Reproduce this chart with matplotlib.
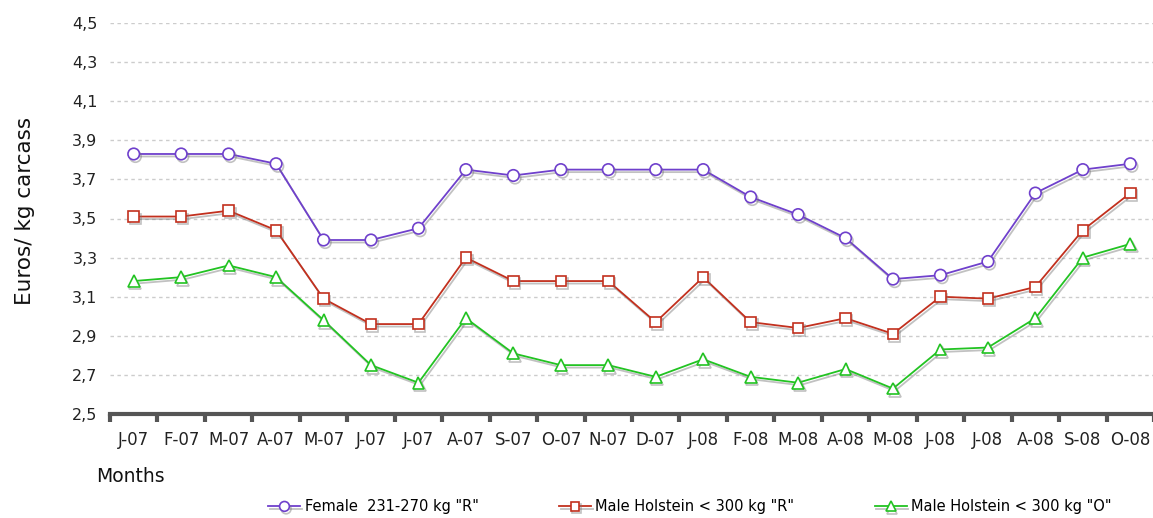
import matplotlib
matplotlib.use("Agg")
import matplotlib.pyplot as plt
import matplotlib.patheffects as pe
from matplotlib.ticker import FixedLocator, NullFormatter

months = ["J-07", "F-07", "M-07", "A-07", "M-07", "J-07", "J-07", "A-07", "S-07", "O-07", "N-07",
          "D-07", "J-08", "F-08", "M-08", "A-08", "M-08", "J-08", "J-08", "A-08", "S-08", "O-08"]
female_r = [3.83, 3.83, 3.83, 3.78, 3.39, 3.39, 3.45, 3.75, 3.72, 3.75, 3.75,
            3.75, 3.75, 3.61, 3.52, 3.40, 3.19, 3.21, 3.28, 3.63, 3.75, 3.78]
holstein_r = [3.51, 3.51, 3.54, 3.44, 3.09, 2.96, 2.96, 3.30, 3.18, 3.18, 3.18,
              2.97, 3.20, 2.97, 2.94, 2.99, 2.91, 3.10, 3.09, 3.15, 3.44, 3.63]
holstein_o = [3.18, 3.20, 3.26, 3.20, 2.98, 2.75, 2.66, 2.99, 2.81, 2.75, 2.75,
              2.69, 2.78, 2.69, 2.66, 2.73, 2.63, 2.83, 2.84, 2.99, 3.30, 3.37]
series_labels = ['Female  231-270 kg "R"', 'Male Holstein < 300 kg "R"', 'Male Holstein < 300 kg "O"']
yticks = [2.5, 2.7, 2.9, 3.1, 3.3, 3.5, 3.7, 3.9, 4.1, 4.3, 4.5]

plt.rcParams['font.family'] = ['DejaVu Sans']

fig = plt.figure(figsize=(11.53, 5.18), dpi=100)
ax = fig.add_axes([110 / 1153, 1 - 414 / 518, (1154 - 110) / 1153, (414 - 23) / 518])

x = list(range(len(months)))
specs = [(female_r, '#6f40cc', 'o', 8.3), (holstein_r, '#c2301e', 's', 7.6), (holstein_o, '#22c322', '^', 8.5)]
handles = []
for (vals, col, mk, ms), lab in zip(specs, series_labels):
    ln, = ax.plot(x, vals, color=col, lw=1.3, marker=mk, ms=ms, mfc='white', mec=col, mew=1.2,
                  label=lab, zorder=3,
                  path_effects=[pe.SimpleLineShadow(offset=(1.2, -1.8), shadow_color='#777777', alpha=0.45),
                                pe.Normal()])
    handles.append(ln)

ax.set_xlim(-0.5, len(months) - 0.5)
ax.set_ylim(2.5, 4.5)
ax.set_yticks(yticks)
ax.set_yticklabels([f"{v:.1f}".replace('.', ',') for v in yticks], fontsize=11.5, color='#222222')
ax.tick_params(axis='y', length=0, pad=9)
ax.set_xticks(x)
ax.set_xticklabels(months, fontsize=12, color='#222222')
ax.tick_params(axis='x', which='major', length=0, pad=12)
ax.xaxis.set_minor_locator(FixedLocator([i - 0.5 for i in range(len(months) + 1)]))
ax.xaxis.set_minor_formatter(NullFormatter())
ax.tick_params(axis='x', which='minor', length=6, width=3, color='#555555', direction='out')

for s in ['left', 'right', 'top']:
    ax.spines[s].set_visible(False)
ax.spines['bottom'].set_linewidth(3)
ax.spines['bottom'].set_color('#555555')

for v in yticks[1:]:
    ax.axhline(v, color='#cccccc', lw=1.0, ls=(0, (2.5, 2.5)), zorder=1)

fig.text(25 / 1153, 1 - 211 / 518, 'Euros/ kg carcass', rotation=90, fontsize=15.5,
         ha='center', va='center', color='#111111')
fig.text(96 / 1153, 1 - 477 / 518, 'Months', fontsize=13.5, ha='left', va='center', color='#111111')

fig.legend(handles=handles, labels=series_labels, loc='center', bbox_to_anchor=(690 / 1153, 1 - 507 / 518),
           ncol=3, frameon=False, fontsize=10.5, handlelength=2.2, columnspacing=5.5, handletextpad=0.3,
           markerscale=0.85)

fig.savefig('out.png', dpi=100)
